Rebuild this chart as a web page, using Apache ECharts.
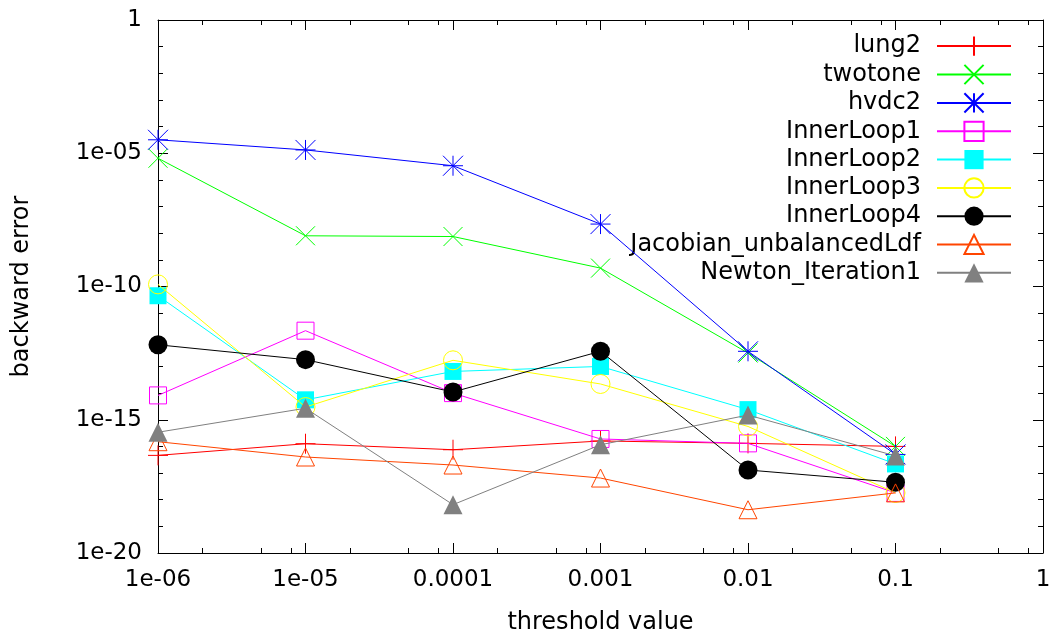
<!DOCTYPE html>
<html>
<head>
<meta charset="utf-8">
<script src="https://cdn.jsdelivr.net/npm/echarts@6/dist/echarts.min.js"></script>
<style>
html,body{margin:0;padding:0;background:#fff;}
#chart{width:1050px;height:633px;}
</style>
</head>
<body>
<div id="chart"></div>
<script>
// ---- data ----
var thresholds = [1e-6, 1e-5, 1e-4, 1e-3, 1e-2, 1e-1];
var seriesNames = ['lung2','twotone','hvdc2','InnerLoop1','InnerLoop2','InnerLoop3','InnerLoop4','Jacobian_unbalancedLdf','Newton_Iteration1'];
var lung2      = [4.6e-17, 1.26e-16, 7.5e-17, 1.6e-16, 1.3e-16, 1.0e-16];
var twotone    = [6.5e-6, 8.0e-9, 7.5e-9, 4.9e-10, 3.2e-13, 1.0e-16];
var hvdc2      = [3.2e-5, 1.33e-5, 3.4e-6, 2.2e-8, 3.7e-13, 5.0e-17];
var innerLoop1 = [8.2e-15, 2.2e-12, 1.0e-14, 1.9e-16, 1.3e-16, 1.8e-18];
var innerLoop2 = [4.5e-11, 5.6e-15, 6.5e-14, 1.0e-13, 2.4e-15, 2.2e-17];
var innerLoop3 = [1.2e-10, 3.0e-15, 1.7e-13, 2.2e-14, 5.6e-16, 1.8e-18];
var innerLoop4 = [6.5e-13, 1.8e-13, 1.1e-14, 3.7e-13, 1.3e-17, 4.5e-18];
var jacobian   = [1.5e-16, 4.0e-17, 2.0e-17, 6.5e-18, 4.2e-19, 1.8e-18];
var newton     = [3.4e-16, 2.7e-15, 6.5e-19, 1.15e-16, 1.5e-15, 4.4e-17];
var xTickExps   = [-6, -5, -4, -3, -2, -1, 0];
var xTickLabels = ['1e-06', '1e-05', '0.0001', '0.001', '0.01', '0.1', '1'];
var xMinorMultipliers = [2, 5, 8];
var yTickExps   = [-20, -15, -10, -5, 0];
var yTickLabels = ['1e-20', '1e-15', '1e-10', '1e-05', '1'];
var xTitle = 'threshold value';
var yTitle = 'backward error';

// ---- styling ----
var FONT = 'DejaVu Sans';
var FS = 23;
var FS2 = 24;
var colors = ['#ff0000', '#00ff00', '#0000ff', '#ff00ff', '#00ffff', '#ffff00', '#000000', '#ff4500', '#808080'];
var P_PLUS = 'path://M0,10L20,10M10,0L10,20';
var P_CROSS = 'path://M0,0L20,20M20,0L0,20';
var P_STAR = 'path://M0,10L20,10M10,0L10,20M0,0L20,20M20,0L0,20';
var symbols = [P_PLUS, P_CROSS, P_STAR, 'rect', 'rect', 'circle', 'circle', 'triangle', 'triangle'];
var filled = [false, false, false, false, true, false, true, false, true];
var sizes = [20, 19, 20, 17, 17, 19, 19, 18, 19];
var allData = [lung2, twotone, hvdc2, innerLoop1, innerLoop2, innerLoop3, innerLoop4, jacobian, newton];

var series = allData.map(function (vals, i) {
  return {
    name: seriesNames[i],
    type: 'line',
    xAxisIndex: 0,
    yAxisIndex: 0,
    data: thresholds.map(function (t, j) { return [t, vals[j]]; }),
    symbol: symbols[i],
    symbolSize: sizes[i],
    symbolKeepAspect: false,
    lineStyle: { color: colors[i], width: 1 },
    itemStyle: filled[i]
      ? { color: colors[i], borderWidth: 0 }
      : { color: 'none', borderColor: colors[i], borderWidth: 1 },
    emphasis: { disabled: true },
    animation: false,
    z: 2 + i
  };
});

var xMinorVals = [];
for (var e = -6; e < 0; e++) {
  xMinorMultipliers.forEach(function (m) { xMinorVals.push(e + Math.log10(m)); });
}

function hiddenAxis(type, min, max) {
  return { type: type, logBase: 10, min: min, max: max, show: false };
}
function frameX(pos, labels) {
  return {
    type: 'value', position: pos, min: -6, max: 0, interval: 1,
    axisLine: { show: true, onZero: false, lineStyle: { color: '#000', width: 1 } },
    axisTick: { show: true, inside: true, length: 10, lineStyle: { color: '#000', width: 1 } },
    axisLabel: {
      show: labels, margin: 16, color: '#000', fontFamily: FONT, fontSize: FS,
      formatter: function (v) { var k = xTickExps.indexOf(Math.round(v)); return k >= 0 ? xTickLabels[k] : ''; }
    },
    splitLine: { show: false },
    name: labels ? xTitle : '', nameLocation: 'middle', nameGap: 58,
    nameTextStyle: { color: '#000', fontFamily: FONT, fontSize: FS2 }
  };
}
function minorX(pos) {
  return {
    type: 'value', position: pos, min: -6, max: 0,
    axisLine: { show: false, onZero: false },
    axisTick: { show: true, inside: true, length: 5, customValues: xMinorVals, lineStyle: { color: '#000', width: 1 } },
    axisLabel: { show: false },
    splitLine: { show: false }
  };
}
function frameY(pos, labels) {
  return {
    type: 'value', position: pos, min: -20, max: 0, interval: 5,
    axisLine: { show: true, onZero: false, lineStyle: { color: '#000', width: 1 } },
    axisTick: { show: true, inside: true, length: 10, lineStyle: { color: '#000', width: 1 } },
    minorTick: { show: true, splitNumber: 5, length: 5, lineStyle: { color: '#000', width: 1 } },
    axisLabel: {
      show: labels, margin: 16, color: '#000', fontFamily: FONT, fontSize: FS,
      formatter: function (v) { var k = yTickExps.indexOf(Math.round(v)); return k >= 0 ? yTickLabels[k] : ''; }
    },
    splitLine: { show: false },
    minorSplitLine: { show: false },
    name: labels ? yTitle : '', nameLocation: 'middle', nameGap: 124, nameRotate: 90,
    nameTextStyle: { color: '#000', fontFamily: FONT, fontSize: FS2 }
  };
}

var option = {
  backgroundColor: '#fff',
  animation: false,
  textStyle: { fontFamily: FONT },
  grid: { left: 158, right: 7, top: 20, bottom: 80, containLabel: false, outerBoundsMode: 'none' },
  xAxis: [hiddenAxis('log', 1e-6, 1), frameX('bottom', true), frameX('top', false), minorX('bottom'), minorX('top')],
  yAxis: [hiddenAxis('log', 1e-20, 1), frameY('left', true), frameY('right', false)],
  legend: {
    orient: 'vertical', align: 'right', right: 38, top: 34,
    itemWidth: 74, itemHeight: 24, itemGap: 4.2, padding: 0,
    selectedMode: false,
    textStyle: { color: '#000', fontFamily: FONT, fontSize: FS2, lineHeight: 24, padding: [0, 11, 0, 0] },
    data: seriesNames
  },
  series: series
};
var chart = echarts.init(document.getElementById('chart'), null, { renderer: 'canvas' });
chart.setOption(option);
</script>
</body>
</html>
